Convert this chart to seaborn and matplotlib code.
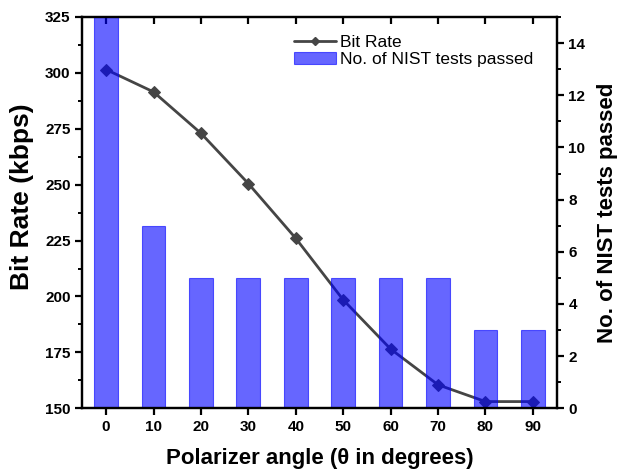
import matplotlib
matplotlib.use('Agg')
import matplotlib.pyplot as plt
import seaborn as sns
from matplotlib.lines import Line2D
from matplotlib.ticker import MultipleLocator

# 数据
angles = [0, 10, 20, 30, 40, 50, 60, 70, 80, 90]
bit_rate = [301.5, 291.5, 273.0, 250.5, 226.0, 198.5, 176.5, 160.5, 153.0, 153.0]
nist_passed = [15, 7, 5, 5, 5, 5, 5, 5, 3, 3]

sns.set_theme(style='ticks')
plt.rcParams['font.family'] = ['Liberation Sans', 'DejaVu Sans']
plt.rcParams['font.weight'] = 'bold'
plt.rcParams['text.color'] = 'black'
plt.rcParams['axes.labelcolor'] = 'black'

fig, ax = plt.subplots(figsize=(6.24, 4.72), dpi=100)
ax2 = ax.twinx()

# 折线(左轴), 柱状图在右轴上, 会覆盖折线
sns.lineplot(x=angles, y=bit_rate, ax=ax, color='#454545', linewidth=2,
             marker='D', markersize=6.5, markeredgecolor='#454545',
             label='Bit Rate', legend=False)
sns.barplot(x=angles, y=nist_passed, ax=ax2, native_scale=True, width=0.5,
            color='blue', alpha=0.6, saturation=1, edgecolor='blue',
            linewidth=0.8, label='No. of NIST tests passed')

ax.set_xlim(-5, 95)
ax.set_ylim(150, 325)
ax2.set_ylim(0, 15)
ax.set_xticks(angles)
ax.yaxis.set_major_locator(MultipleLocator(25))
ax.yaxis.set_minor_locator(MultipleLocator(12.5))
ax2.yaxis.set_major_locator(MultipleLocator(2))
ax2.yaxis.set_minor_locator(MultipleLocator(1))

ax.set_xlabel('Polarizer angle (θ in degrees)', fontsize=16, fontweight='bold', labelpad=10)
ax.set_ylabel('Bit Rate (kbps)', fontsize=19, fontweight='bold')
ax.yaxis.set_label_coords(-0.103, 0.542)
ax2.set_ylabel('No. of NIST tests passed', fontsize=16, fontweight='bold', labelpad=8)

for a in (ax, ax2):
    for s in a.spines.values():
        s.set_linewidth(1.6)
        s.set_visible(True)
        s.set_color('black')
ax.tick_params(axis='both', which='major', length=5, width=1.6, labelsize=11, colors='black')
ax.tick_params(axis='y', which='minor', length=3, width=1.4, colors='black')
ax.tick_params(axis='x', top=True, direction='out')
ax2.tick_params(axis='y', which='major', length=5, width=1.6, labelsize=11, colors='black')
ax2.tick_params(axis='y', which='minor', length=3, width=1.4, colors='black')
ax2.tick_params(axis='x', top=False, bottom=False)
for t in ax.xaxis.get_major_ticks():
    t.tick2line.set_marker(3)  # 顶部刻度朝内
for lbl in ax.get_xticklabels() + ax.get_yticklabels() + ax2.get_yticklabels():
    lbl.set_fontweight('bold')

# 图例: 折线句柄单独建, 标记小一些
line_handle = Line2D([], [], color='#454545', linewidth=2, marker='D', markersize=4.5)
h2, l2 = ax2.get_legend_handles_labels()
ax2.legend([line_handle] + h2, ['Bit Rate'] + l2, loc='upper left',
           bbox_to_anchor=(0.414, 0.995), frameon=False,
           prop={'size': 12.5, 'weight': 'normal'},
           handlelength=2.4, handletextpad=0.25, labelspacing=0.15)

fig.subplots_adjust(left=0.132, right=0.892, top=0.964, bottom=0.135)
fig.savefig('out.png', dpi=100)
